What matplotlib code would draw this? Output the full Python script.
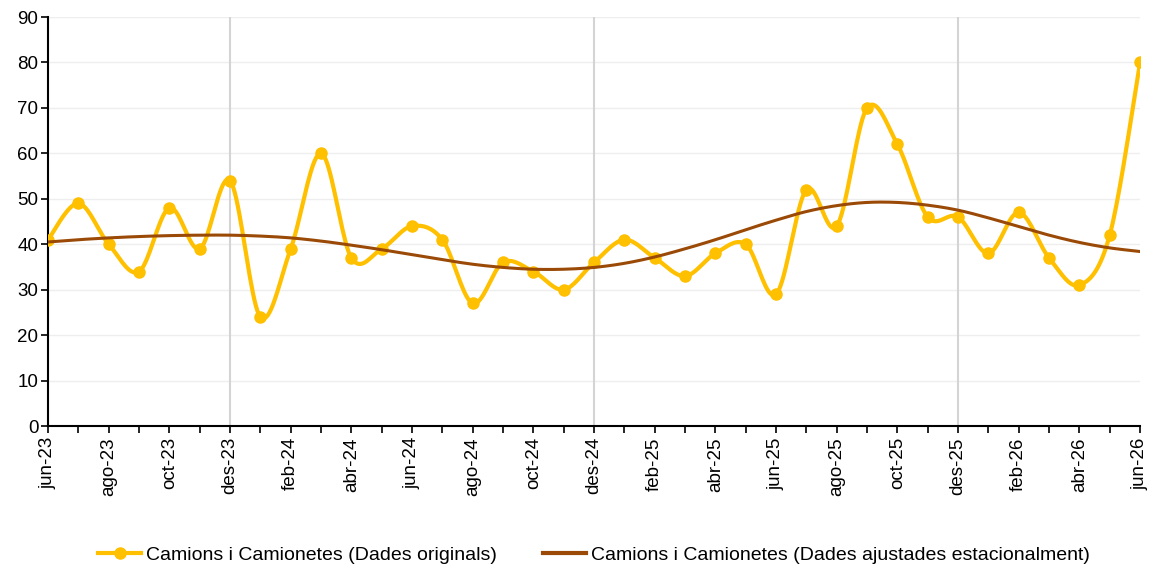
import numpy as np
import matplotlib.pyplot as plt

plt.rcParams['font.family'] = ['Liberation Sans', 'DejaVu Sans']

months = ['jun-23', 'jul-23', 'ago-23', 'set-23', 'oct-23', 'nov-23', 'des-23',
          'gen-24', 'feb-24', 'mar-24', 'abr-24', 'mai-24', 'jun-24', 'jul-24',
          'ago-24', 'set-24', 'oct-24', 'nov-24', 'des-24', 'gen-25', 'feb-25',
          'mar-25', 'abr-25', 'mai-25', 'jun-25', 'jul-25', 'ago-25', 'set-25',
          'oct-25', 'nov-25', 'des-25', 'gen-26', 'feb-26', 'mar-26', 'abr-26',
          'mai-26', 'jun-26']

originals = [41, 49, 40, 34, 48, 39, 54, 24, 39, 60, 37, 39, 44, 41, 27, 36,
             34, 30, 36, 41, 37, 33, 38, 40, 29, 52, 44, 70, 62, 46, 46, 38,
             47, 37, 31, 42, 80]

ajustades = [40.5, 41.0, 41.4, 41.7, 41.9, 42.0, 42.0, 41.8, 41.4, 40.7, 39.8,
             38.8, 37.7, 36.6, 35.6, 34.9, 34.5, 34.5, 34.9, 35.8, 37.2, 39.0,
             41.0, 43.2, 45.3, 47.2, 48.5, 49.2, 49.2, 48.6, 47.5, 45.8, 43.9,
             42.0, 40.4, 39.2, 38.4]

lbl_orig = 'Camions i Camionetes (Dades originals)'
lbl_adj = 'Camions i Camionetes (Dades ajustades estacionalment)'


def smooth(y, n=20):
    # Catmull-Rom curve through the points, like Excel's smoothed line
    y = np.asarray(y, dtype=float)
    x = np.arange(len(y), dtype=float)
    px = np.concatenate([[x[0]], x, [x[-1]]])
    py = np.concatenate([[y[0]], y, [y[-1]]])
    xs, ys = [], []
    t = np.linspace(0, 1, n, endpoint=False)
    for i in range(1, len(px) - 2):
        p0, p1, p2, p3 = py[i - 1], py[i], py[i + 1], py[i + 2]
        q0, q1, q2, q3 = px[i - 1], px[i], px[i + 1], px[i + 2]
        ys.append(0.5 * (2 * p1 + (-p0 + p2) * t + (2 * p0 - 5 * p1 + 4 * p2 - p3) * t**2
                         + (-p0 + 3 * p1 - 3 * p2 + p3) * t**3))
        xs.append(0.5 * (2 * q1 + (-q0 + q2) * t + (2 * q0 - 5 * q1 + 4 * q2 - q3) * t**2
                         + (-q0 + 3 * q1 - 3 * q2 + q3) * t**3))
    xs.append([x[-1]])
    ys.append([y[-1]])
    return np.concatenate(xs), np.concatenate(ys)


x = np.arange(len(months))
yellow = '#FFC000'
brown = '#9A4A06'

fig = plt.figure(figsize=(11.58, 5.7), dpi=100)
ax = fig.add_axes([0.0415, 0.2526, 0.943, 0.7175])

for yv in range(10, 100, 10):
    ax.axhline(yv, color='#EEEEEE', lw=1, zorder=0)
for i, m in enumerate(months):
    if m.startswith('des'):
        ax.axvline(i, color='#D4D4D4', lw=1.5, zorder=0)

sx, sy = smooth(originals)
ax.plot(sx, sy, color=yellow, lw=3, zorder=3)
ax.plot(x, originals, 'o', color=yellow, ms=8, zorder=4)
ax.plot(*smooth(ajustades), color=brown, lw=2.2, zorder=5)

ax.set_xlim(0, len(months) - 1)
ax.set_ylim(0, 90)
ax.set_yticks(range(0, 100, 10))
ax.set_xticks(x)
ax.set_xticklabels([m if i % 2 == 0 else '' for i, m in enumerate(months)],
                   rotation=90, fontsize=13.5)
ax.tick_params(axis='y', labelsize=13.5, length=5, width=1.2, direction='out', pad=2)
ax.tick_params(axis='x', length=5, width=1.2, direction='out', pad=3)
ax.spines['top'].set_visible(False)
ax.spines['right'].set_visible(False)
ax.spines['left'].set_linewidth(1.5)
ax.spines['bottom'].set_linewidth(1.5)

h1 = plt.Line2D([], [], color=yellow, lw=3, marker='o', ms=8)
h2 = plt.Line2D([], [], color=brown, lw=3)
fig.legend([h1, h2], [lbl_orig, lbl_adj], loc='lower center',
           bbox_to_anchor=(0.513, -0.02), ncol=2, frameon=False, fontsize=14,
           handlelength=2.2, columnspacing=2.4, handletextpad=0.25)

fig.savefig('out.png', dpi=100)
